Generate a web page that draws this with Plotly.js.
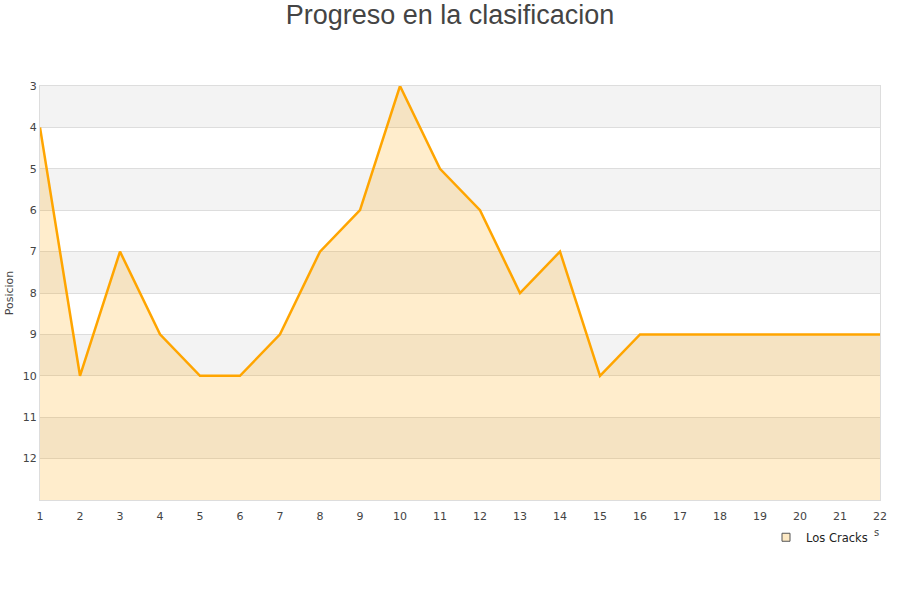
<!DOCTYPE html>
<html>
<head>
<meta charset="utf-8">
<script src="https://cdn.plot.ly/plotly-3.0.1.min.js"></script>
<style>body{margin:0;padding:0;background:#fff;}#chart{width:900px;height:600px;}</style>
</head>
<body>
<div id="chart"></div>
<script>
const jornadas = [1,2,3,4,5,6,7,8,9,10,11,12,13,14,15,16,17,18,19,20,21,22];
const posicion = [4,10,7,9,10,10,9,7,6,3,5,6,8,7,10,9,9,9,9,9,9,9];
const yTicks = [3,4,5,6,7,8,9,10,11,12];
const yMin = 3, yMax = 13;
const seriesName = "Los Cracks";

const bands = [];
for (let v = yMin; v < yMax; v += 2) {
  bands.push({type:'rect', xref:'paper', yref:'y', x0:0, x1:1, y0:v, y1:v+1,
    fillcolor:'#f3f3f3', line:{width:0}, layer:'below'});
}

const baseline = {x: jornadas, y: jornadas.map(() => yMax), mode:'lines',
  line:{width:0, color:'rgba(0,0,0,0)'}, showlegend:false, hoverinfo:'skip'};
const main = {x: jornadas, y: posicion, mode:'lines', fill:'tonexty',
  fillcolor:'rgba(255,165,0,0.2)', line:{color:'#FFA500', width:2.5},
  name: seriesName, showlegend:false};
const legendTrace = {x:[null], y:[null], mode:'markers', name: seriesName,
  marker:{symbol:'square', size:8, color:'#fde9c4', line:{color:'#555', width:1}}};

const layout = {
  width:900, height:600,
  margin:{l:40, r:20, t:86, b:100},
  paper_bgcolor:'#fff', plot_bgcolor:'#fff',
  title:{text:'Progreso en la clasificacion', x:0.5, xanchor:'center', y:0.975, yanchor:'middle',
    font:{family:'Liberation Sans, Arial, sans-serif', size:27, color:'#444'}},
  font:{family:'DejaVu Sans, sans-serif', size:11, color:'#444'},
  xaxis:{range:[1,22], tickvals:jornadas, ticktext:jornadas.map(String), showgrid:false,
    zeroline:false, showline:true, linecolor:'#ddd', linewidth:1, mirror:true,
    ticks:'', ticklabelstandoff:6, tickfont:{size:11, color:'#444'}},
  yaxis:{range:[yMax, yMin], tickvals:yTicks, ticktext:yTicks.map(String), showgrid:true,
    gridcolor:'#ddd', zeroline:false, showline:true, linecolor:'#ddd', linewidth:1, mirror:true,
    ticks:'', tickfont:{size:11, color:'#444'},
    title:{text:'Posicion', font:{size:11, color:'#444'}, standoff:6}},
  shapes: bands,
  showlegend:true,
  legend:{x:(873-40)/840, xanchor:'right', y:-0.09, yanchor:'middle', bgcolor:'rgba(0,0,0,0)',
    font:{size:11.5, color:'#222'}, itemwidth:30},
  annotations:[{text:'s', xref:'paper', yref:'paper', x:(876-40)/840, y:-(532-500)/414,
    xanchor:'center', yanchor:'middle', showarrow:false, font:{size:10, color:'#444'}}]
};

Plotly.newPlot('chart', [baseline, main, legendTrace], layout, {displayModeBar:false, staticPlot:true});
</script>
</body>
</html>
